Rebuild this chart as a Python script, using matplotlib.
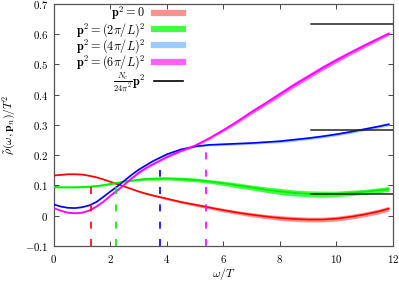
import matplotlib
matplotlib.use("Agg")
import matplotlib.pyplot as plt
from matplotlib.lines import Line2D
import numpy as np

plt.rcParams['mathtext.fontset'] = 'cm'
plt.rcParams['font.family'] = 'serif'
plt.rcParams['font.serif'] = ['cmr10', 'DejaVu Serif']
plt.rcParams['axes.formatter.use_mathtext'] = True

# omega/T grid
omega = [0.0, 0.25, 0.5, 0.75, 1.0, 1.25, 1.5, 1.75, 2.0, 2.25, 2.5, 2.75, 3.0, 3.25, 3.5,
         4.0, 4.5, 5.0, 5.5, 6.0, 6.5, 7.0, 7.5, 8.0, 8.5, 9.0, 9.5, 10.0, 10.5, 11.0, 11.5, 11.85]

# spectral functions for each momentum
rho_p0 = [0.133, 0.135, 0.137, 0.137, 0.136, 0.132, 0.127, 0.120, 0.112, 0.104, 0.096, 0.088, 0.080, 0.073, 0.067,
          0.056, 0.045, 0.036, 0.027, 0.018, 0.010, 0.003, -0.003, -0.008, -0.011, -0.013, -0.013, -0.010, -0.004,
          0.004, 0.014, 0.023]
rho_p1 = [0.095, 0.094, 0.094, 0.094, 0.095, 0.096, 0.098, 0.101, 0.105, 0.109, 0.113, 0.116, 0.119, 0.121, 0.122,
          0.123, 0.121, 0.118, 0.113, 0.107, 0.100, 0.093, 0.086, 0.080, 0.075, 0.072, 0.071, 0.072, 0.075,
          0.079, 0.084, 0.088]
rho_p2 = [0.037, 0.030, 0.026, 0.025, 0.028, 0.034, 0.045, 0.062, 0.080, 0.097, 0.116, 0.135, 0.152, 0.166, 0.180,
          0.203, 0.219, 0.229, 0.234, 0.236, 0.238, 0.240, 0.243, 0.246, 0.251, 0.256, 0.262, 0.269, 0.277,
          0.286, 0.295, 0.302]
rho_p3 = [0.025, 0.016, 0.010, 0.008, 0.010, 0.017, 0.030, 0.046, 0.066, 0.084, 0.103, 0.123, 0.142, 0.157, 0.170,
          0.194, 0.214, 0.232, 0.256, 0.283, 0.312, 0.343, 0.372, 0.402, 0.432, 0.460, 0.488, 0.514, 0.539,
          0.563, 0.586, 0.602]

# error band half widths
err_p0 = [0.002] * 12 + [0.003, 0.003, 0.003,
          0.004, 0.004, 0.005, 0.005, 0.006, 0.006, 0.007, 0.007, 0.008, 0.008, 0.008, 0.008, 0.008, 0.008,
          0.008, 0.008, 0.008]
err_p1 = [0.003] * 12 + [0.004, 0.004, 0.005,
          0.005, 0.006, 0.006, 0.006, 0.007, 0.008, 0.008, 0.009, 0.010, 0.010, 0.010, 0.010, 0.009, 0.009,
          0.008, 0.008, 0.008]
err_p2 = [0.002] * 12 + [0.002, 0.002, 0.002,
          0.003, 0.003, 0.003, 0.003, 0.004, 0.004, 0.004, 0.004, 0.005, 0.005, 0.005, 0.005, 0.005, 0.005,
          0.005, 0.005, 0.005]
err_p3 = [0.002] * 12 + [0.003, 0.003, 0.003,
          0.003, 0.003, 0.004, 0.004, 0.005, 0.006, 0.007, 0.007, 0.008, 0.008, 0.008, 0.008, 0.008, 0.007,
          0.007, 0.006, 0.006]

# free asymptotes Nc/(24 pi^2) p^2
asym_levels = [0.0705, 0.282, 0.633]
asym_start = 9.1
asym_end = 12.0

# dashed markers (omega position, top value)
mark_pos = [1.33, 2.19, 3.75, 5.4]
mark_top = [0.095, 0.100, 0.152, 0.22]

labels = [r'$\mathbf{p}^2=0$', r'$\mathbf{p}^2=(2\pi/L)^2$',
          r'$\mathbf{p}^2=(4\pi/L)^2$', r'$\mathbf{p}^2=(6\pi/L)^2$',
          r'$\frac{N_c}{24\pi^2}\mathbf{p}^2$']
line_cols = ['#ff0000', '#00ee00', '#0000ff', '#ff00ff']
band_cols = ['#ff9090', '#40ff40', '#9cccff', '#ff60ff']

xticks = [0, 2, 4, 6, 8, 10, 12]
yticks = [-0.1, 0, 0.1, 0.2, 0.3, 0.4, 0.5, 0.6, 0.7]
yticklabels = [r'$-0.1$', r'$0$', r'$0.1$', r'$0.2$', r'$0.3$', r'$0.4$', r'$0.5$', r'$0.6$', r'$0.7$']

fig = plt.figure(figsize=(3.99, 2.81), dpi=100)
ax = fig.add_axes([0.135, 0.125, 0.85, 0.861])

w = np.array(omega)
series = [rho_p0, rho_p1, rho_p2, rho_p3]
errs = [err_p0, err_p1, err_p2, err_p3]
for s, e, lc, bc in zip(series, errs, line_cols, band_cols):
    s = np.array(s)
    e = np.array(e)
    ax.fill_between(w, s - e, s + e, color=bc, lw=0, zorder=2)
    ax.plot(w, s, color=lc, lw=1.2, zorder=3)

for lev in asym_levels:
    ax.plot([asym_start, asym_end], [lev, lev], color='#222222', lw=1.1, zorder=4)

for x, top, c in zip(mark_pos, mark_top, line_cols):
    ax.plot([x, x], [-0.1, top], color=c, lw=1.2, ls=(0, (4.2, 6.2)), zorder=3)

ax.set_xlim(0, 12)
ax.set_ylim(-0.1, 0.7)
ax.set_xticks(xticks)
ax.set_xticklabels([r'$%d$' % t for t in xticks])
ax.set_yticks(yticks)
ax.set_yticklabels(yticklabels)
ax.tick_params(direction='in', top=True, right=True, length=3.5, width=0.7,
               labelsize=7.8, color='#444444')
ax.tick_params(axis='x', pad=5)
ax.tick_params(axis='y', pad=4)
for sp in ax.spines.values():
    sp.set_color('#555555')
    sp.set_linewidth(0.9)

ax.set_xlabel(r'$\omega/T$', fontsize=8.5, labelpad=1)
ax.set_ylabel(r'$\tilde{\rho}(\omega,\mathbf{p}_n)/T^2$', fontsize=8.5, labelpad=5)

handles = [Line2D([], [], color=c, lw=4.5) for c in band_cols]
handles.append(Line2D([], [], color='black', lw=1.2))
ax.legend(handles, labels, loc='upper right', bbox_to_anchor=(0.381, 0.998),
          frameon=False, markerfirst=False, fontsize=8.8, handlelength=2.4,
          handletextpad=0.7, labelspacing=-0.12, borderaxespad=0, borderpad=0)

fig.savefig('out.png', dpi=100)
